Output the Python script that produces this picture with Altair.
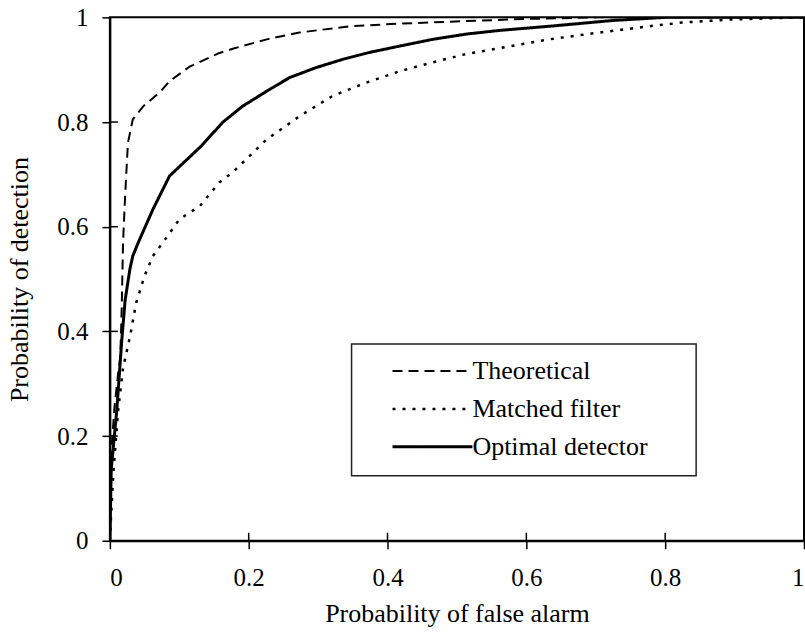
import altair as alt
import pandas as pd

# ---- data ----
series_names = ["Theoretical", "Matched filter", "Optimal detector"]

theo_x = [0, 0.002, 0.007, 0.012, 0.015, 0.017, 0.019, 0.021, 0.023, 0.026, 0.033, 0.048,
          0.072, 0.086, 0.115, 0.13, 0.158, 0.177, 0.226, 0.273, 0.345, 0.417, 0.513, 0.6,
          0.7, 0.8, 1.0]
theo_y = [0, 0.17, 0.26, 0.32, 0.35, 0.44, 0.57, 0.63, 0.685, 0.76, 0.805, 0.83,
          0.857, 0.878, 0.906, 0.915, 0.932, 0.94, 0.958, 0.971, 0.983, 0.988, 0.993, 0.997,
          1.0, 1.0, 1.0]

mf_x = [0, 0.005, 0.012, 0.019, 0.029, 0.038, 0.05, 0.062, 0.082, 0.1, 0.13, 0.158, 0.177,
        0.226, 0.273, 0.321, 0.369, 0.417, 0.465, 0.513, 0.561, 0.633, 0.705, 0.777, 0.824,
        0.896, 1.0]
mf_y = [0, 0.13, 0.25, 0.33, 0.39, 0.455, 0.506, 0.544, 0.58, 0.614, 0.64, 0.685, 0.704,
        0.767, 0.811, 0.85, 0.875, 0.897, 0.914, 0.93, 0.941, 0.958, 0.971, 0.983, 0.99,
        0.996, 1.0]

opt_x = [0, 0.002, 0.01, 0.017, 0.022, 0.029, 0.033, 0.041, 0.062, 0.086, 0.13, 0.163, 0.191,
         0.226, 0.259, 0.297, 0.336, 0.374, 0.417, 0.465, 0.513, 0.561, 0.633, 0.724, 0.8, 1.0]
opt_y = [0, 0.137, 0.25, 0.38, 0.46, 0.52, 0.544, 0.57, 0.633, 0.697, 0.752, 0.80, 0.83,
         0.859, 0.885, 0.904, 0.92, 0.933, 0.945, 0.958, 0.968, 0.975, 0.983, 0.994, 1.0, 1.0]

tick_values = [0, 0.2, 0.4, 0.6, 0.8, 1]
inner_ticks = [0.2, 0.4, 0.6, 0.8]

rows = []
for name, xs, ys in [(series_names[0], theo_x, theo_y),
                     (series_names[1], mf_x, mf_y),
                     (series_names[2], opt_x, opt_y)]:
    for i, (a, b) in enumerate(zip(xs, ys)):
        rows.append({"series": name, "pfa": a, "pd": b, "i": i})
df = pd.DataFrame(rows)

FONT = "Liberation Serif"
W, H = 695, 524

xscale = alt.Scale(domain=[0, 1], nice=False)
yscale = alt.Scale(domain=[0, 1], nice=False)

lines = alt.Chart(df).mark_line(color="black", clip=True).encode(
    x=alt.X("pfa:Q", scale=xscale,
            axis=alt.Axis(title="Probability of false alarm", values=tick_values, format="~g",
                          titlePadding=10, labelPadding=17)),
    y=alt.Y("pd:Q", scale=yscale,
            axis=alt.Axis(title="Probability of detection", values=tick_values, format="~g",
                          titlePadding=24, labelPadding=14)),
    order=alt.Order("i:Q"),
    strokeDash=alt.StrokeDash(
        "series:N",
        scale=alt.Scale(domain=series_names, range=[[10, 6], [3, 7], [1, 0]]),
        legend=alt.Legend(orient="none", legendX=310, legendY=341, title=None,
                          symbolType="M-8,0H8", symbolSize=100, symbolStrokeWidth=2,
                          symbolStrokeColor="black", labelFont=FONT, labelFontSize=26,
                          labelColor="black", labelOffset=27, labelLimit=500,
                          rowPadding=12, padding=0),
    ),
    strokeWidth=alt.StrokeWidth(
        "series:N",
        scale=alt.Scale(domain=series_names, range=[2, 3, 2]),
        legend=None,
    ),
)

ytick_df = pd.DataFrame({"v": inner_ticks})
yticks_in = alt.Chart(ytick_df).mark_rule(color="black", strokeWidth=1.5).encode(
    y=alt.Y("v:Q", scale=yscale), x=alt.value(0), x2=alt.value(8))
xticks_in = alt.Chart(ytick_df).mark_rule(color="black", strokeWidth=1.5).encode(
    x=alt.X("v:Q", scale=xscale), y=alt.value(H), y2=alt.value(H - 8))

legend_box = alt.Chart(alt.Data(values=[{"a": 1}])).mark_rect(
    fill="white", fillOpacity=0, stroke="#222", strokeWidth=1.5
).encode(x=alt.value(242), x2=alt.value(587), y=alt.value(327), y2=alt.value(459))

chart = alt.layer(legend_box, lines, yticks_in, xticks_in).properties(
    width=W, height=H, padding={"left": 6, "top": 5, "right": 0, "bottom": 5}
).configure_view(
    stroke="black", strokeWidth=2
).configure_axis(
    grid=False, domainColor="black", domainWidth=2, tickColor="black", tickWidth=1.5,
    tickSize=8, labelFont=FONT, labelFontSize=25, labelColor="black",
    titleFont=FONT, titleFontSize=26, titleFontWeight="normal", titleColor="black",
)

chart.save("out.html", embed_options={"renderer": "svg", "actions": False})
